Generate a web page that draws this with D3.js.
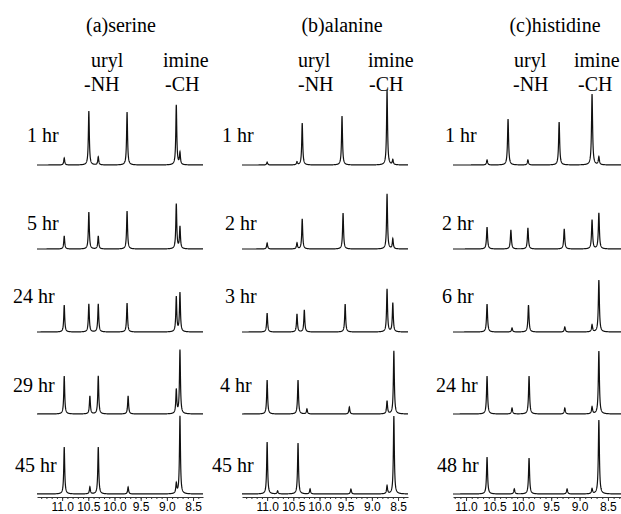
<!DOCTYPE html>
<html><head><meta charset="utf-8">
<script src="https://cdn.jsdelivr.net/npm/d3@7"></script>
<style>body{margin:0;background:#fff}svg{display:block}</style>
</head><body><svg id="c" width="621" height="514"></svg>
<script>
// ---- data ----
const tickValues = [11.0, 10.5, 10.0, 9.5, 9.0, 8.5];
const tickLabels = ["11.0", "10.5", "10.0", "9.5", "9.0", "8.5"];
const panelTitles = ["(a)serine", "(b)alanine", "(c)histidine"];
const serineTimes = ["1 hr", "5 hr", "24 hr", "29 hr", "45 hr"];
const alanineTimes = ["1 hr", "2 hr", "3 hr", "4 hr", "45 hr"];
const histidineTimes = ["1 hr", "2 hr", "6 hr", "24 hr", "48 hr"];

// peak positions (ppm) per spectrum
const serinePositions = [
  [10.96, 10.49, 10.31, 9.76, 8.82, 8.75],
  [10.96, 10.49, 10.31, 9.76, 8.82, 8.75],
  [10.96, 10.49, 10.31, 9.76, 8.82, 8.75],
  [10.96, 10.47, 10.31, 9.74, 8.82, 8.75],
  [10.96, 10.47, 10.31, 9.74, 8.82, 8.75]
];
const serineIntensity = [
  [7, 54, 8, 53, 60, 12],
  [13, 37, 13, 38, 45, 22],
  [27, 28, 28, 29, 35, 39],
  [38, 18, 38, 18, 24, 64],
  [47, 7, 47, 7, 10, 78]
];
const alaninePositions = [
  [11.0, 10.43, 10.33, 9.57, 8.71, 8.60],
  [11.0, 10.43, 10.33, 9.55, 8.71, 8.60],
  [11.0, 10.43, 10.29, 9.51, 8.71, 8.60],
  [11.0, 10.41, 10.24, 9.43, 8.71, 8.58],
  [11.0, 10.80, 10.41, 10.18, 9.40, 8.71, 8.58]
];
const alanineIntensity = [
  [3, 3, 42, 49, 75, 5],
  [6, 6, 30, 36, 55, 10],
  [19, 18, 22, 28, 43, 29],
  [34, 34, 5, 7, 13, 63],
  [52, 3, 51, 5, 5, 8, 78]
];
const histidinePositions = [
  [10.63, 10.26, 9.91, 9.36, 8.78, 8.66],
  [10.63, 10.21, 9.91, 9.27, 8.78, 8.66],
  [10.63, 10.19, 9.90, 9.26, 8.78, 8.66],
  [10.63, 10.19, 9.89, 9.26, 8.78, 8.66],
  [10.63, 10.15, 9.89, 9.22, 8.78, 8.66]
];
const histidineIntensity = [
  [5, 46, 5, 43, 71, 8],
  [22, 19, 21, 20, 29, 36],
  [28, 4, 27, 5, 7, 52],
  [38, 6, 38, 6, 7, 63],
  [37, 5, 36, 5, 5, 74]
];

// ---- layout ----
const panels = [
  {x0: 37, x1: 203, domain: [11.48, 8.31], title: panelTitles[0], tx: 121,
   uryl: [91, 84], imine: [163, 165], times: serineTimes, tpx: [27, 27, 13, 13, 15],
   pos: serinePositions, inten: serineIntensity},
  {x0: 242, x1: 408, domain: [11.48, 8.31], title: panelTitles[1], tx: 342,
   uryl: [298, 298], imine: [368, 369], times: alanineTimes, tpx: [222, 225, 225, 220, 212],
   pos: alaninePositions, inten: alanineIntensity},
  {x0: 453, x1: 621, domain: [11.23, 8.27], title: panelTitles[2], tx: 555,
   uryl: [514, 513], imine: [574, 578], times: histidineTimes, tpx: [445, 442, 442, 436, 437],
   pos: histidinePositions, inten: histidineIntensity}
];
const baselines = [165, 249, 332, 414, 494];
const timeBaselines = [142, 230, 303, 392, 472];
const axisY = 497;

const svg = d3.select("#c");
const serif = "'Liberation Serif','Times New Roman',serif";
const yH = d3.scaleLinear().domain([0, 100]).range([0, 100]);
const W = 0.011;

panels.forEach(p => {
  const x = d3.scaleLinear().domain(p.domain).range([p.x0, p.x1]);
  const g = svg.append("g");
  g.append("text").attr("x", p.tx).attr("y", 32).attr("text-anchor", "middle")
    .attr("font-family", serif).attr("font-size", 20).text(p.title);
  g.append("text").attr("x", p.uryl[0]).attr("y", 67).attr("font-family", serif).attr("font-size", 20).text("uryl");
  g.append("text").attr("x", p.uryl[1]).attr("y", 91).attr("font-family", serif).attr("font-size", 20).text("-NH");
  g.append("text").attr("x", p.imine[0]).attr("y", 67).attr("font-family", serif).attr("font-size", 20).text("imine");
  g.append("text").attr("x", p.imine[1]).attr("y", 91).attr("font-family", serif).attr("font-size", 20).text("-CH");

  const [dHi, dLo] = p.domain;
  p.pos.forEach((positions, i) => {
    const peaks = positions.map((c, k) => [c, p.inten[i][k]]);
    const xs = d3.range(dLo, dHi, 0.002).concat(positions).concat([dHi]).sort((a, b) => a - b);
    const pts = xs.map(v => [v, d3.sum(peaks, pk => pk[1] * W * W / ((v - pk[0]) ** 2 + W * W))]);
    const base = baselines[i];
    g.append("path").attr("d", d3.line().x(d => x(d[0])).y(d => base - yH(d[1]))(pts))
      .attr("fill", "none").attr("stroke", "#111").attr("stroke-width", 1.2);
    g.append("text").attr("x", p.tpx[i]).attr("y", timeBaselines[i])
      .attr("font-family", serif).attr("font-size", 20).text(p.times[i]);
  });

  const minor = d3.range(Math.ceil(dLo * 10), Math.floor(dHi * 10) + 1).map(v => v / 10);
  g.append("g").attr("transform", `translate(0,${axisY})`)
    .call(d3.axisBottom(x).tickValues(minor).tickSize(2).tickSizeOuter(0).tickFormat(""))
    .call(a => a.selectAll("line,path").attr("stroke", "#333"));
  g.append("g").attr("transform", `translate(0,${axisY})`)
    .call(d3.axisBottom(x).tickValues(tickValues).tickFormat((d, i) => tickLabels[i]).tickSize(4).tickSizeOuter(0).tickPadding(1))
    .call(a => { a.select(".domain").remove(); a.selectAll("line").attr("stroke", "#333"); })
    .call(a => a.selectAll("text").attr("font-family", "'Liberation Sans',Arial,sans-serif").attr("font-size", 12).attr("fill", "#000"));
});
</script></body></html>
